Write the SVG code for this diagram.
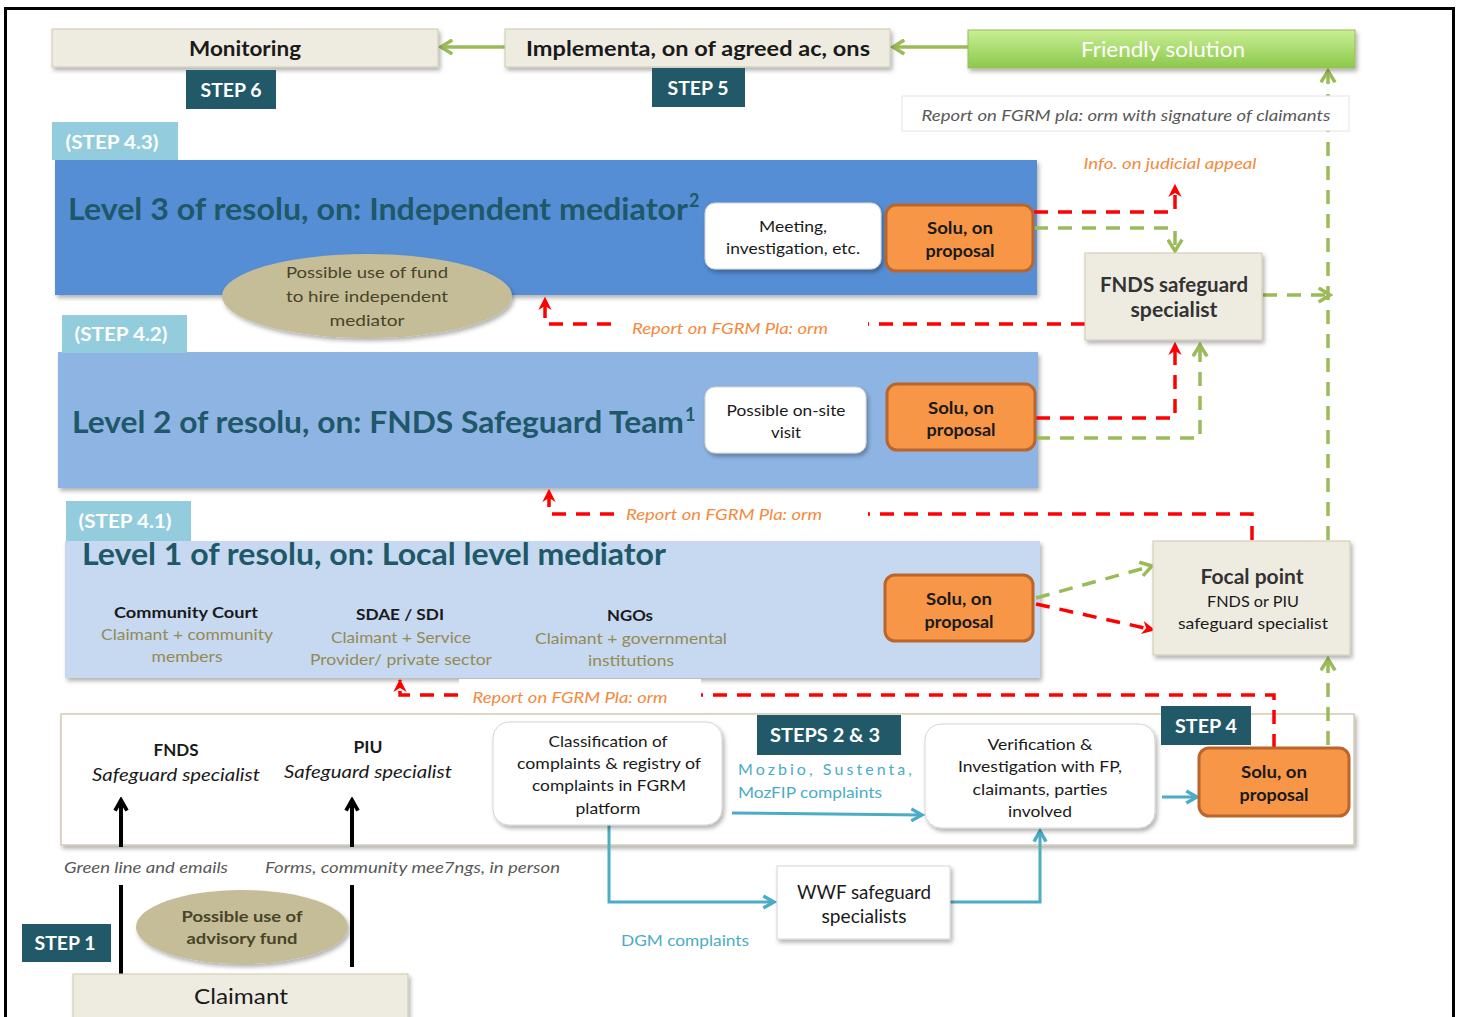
<svg xmlns="http://www.w3.org/2000/svg" width="1460" height="1017" viewBox="0 0 1460 1017">
<defs>
<style>
text{font-family:Lato,"Liberation Sans",sans-serif;}
.c{text-anchor:middle;}
.b{font-weight:bold;}
.i{font-style:italic;}
.step{fill:#215968;}
.stept{fill:#fff;font-weight:bold;font-size:19px;text-anchor:middle;}
.lstep{fill:#93cddd;}
.beige{fill:#eeece1;stroke:#cfc9ae;stroke-width:1;}
.orange{fill:#f79646;stroke:#b9652b;stroke-width:3;}
.white{fill:#fff;stroke:#d5d5d5;stroke-width:1;}
.lvl{fill:#1f5868;font-size:31px;font-weight:bold;}
.rep{fill:#f5893c;font-size:16px;font-style:italic;}
.gray{fill:#948a54;font-size:16px;}
.dk{fill:#1a1a1a;}
.red{fill:none;stroke:#ff0000;stroke-width:3.5;stroke-dasharray:14 10;}
.grn{fill:none;stroke:#9bbb59;stroke-width:3.5;stroke-dasharray:14 10;}
.grs{fill:none;stroke:#9bbb59;stroke-width:3.5;}
.blk{fill:none;stroke:#000;stroke-width:4;}
.blu{fill:none;stroke:#4bacc6;stroke-width:3;}
.blut{fill:#4bacc6;font-size:16px;}
</style>
<filter id="sh" x="-10%" y="-10%" width="130%" height="140%">
<feDropShadow dx="2" dy="3" stdDeviation="2" flood-color="#000" flood-opacity="0.3"/>
</filter>
<linearGradient id="gr" x1="0" y1="0" x2="0" y2="1">
<stop offset="0" stop-color="#c9ef95"/>
<stop offset="1" stop-color="#8cc84b"/>
</linearGradient>
<marker id="mG" viewBox="0 0 12 12" refX="10" refY="6" markerWidth="17" markerHeight="17" orient="auto" markerUnits="userSpaceOnUse">
<path d="M2,1 L10,6 L2,11" fill="none" stroke="#9bbb59" stroke-width="2.5"/>
</marker>
<marker id="mR" viewBox="0 0 12 12" refX="10" refY="6" markerWidth="16" markerHeight="16" orient="auto" markerUnits="userSpaceOnUse">
<path d="M1,1 L11,6 L1,11 L4,6 z" fill="#ff0000"/>
</marker>
<marker id="mK" viewBox="0 0 12 12" refX="10" refY="6" markerWidth="16" markerHeight="16" orient="auto" markerUnits="userSpaceOnUse">
<path d="M2,1.5 L10,6 L2,10.5" fill="none" stroke="#000" stroke-width="2.8"/>
</marker>
<marker id="mB" viewBox="0 0 12 12" refX="10" refY="6" markerWidth="16" markerHeight="16" orient="auto" markerUnits="userSpaceOnUse">
<path d="M2,1.5 L10,6 L2,10.5" fill="none" stroke="#4bacc6" stroke-width="2.5"/>
</marker>
</defs>
<rect x="0" y="0" width="1460" height="1017" fill="#fff"/>
<rect id="frame" x="5.5" y="8.5" width="1448" height="1030" fill="none" stroke="#000" stroke-width="3"/>

<g id="panels">
<g id="level3"><rect x="55" y="160" width="982" height="135" fill="#558ed5" filter="url(#sh)"/>
<text x="68" y="220" class="lvl" textLength="620" lengthAdjust="spacingAndGlyphs">Level 3 of resolu, on: Independent mediator</text><text x="689" y="207" class="lvl" style="font-size:18px">2</text></g>
<g id="level2"><rect x="58" y="352" width="980" height="136" fill="#8eb4e3" filter="url(#sh)"/>
<text x="72" y="433" class="lvl" textLength="612" lengthAdjust="spacingAndGlyphs">Level 2 of resolu, on: FNDS Safeguard Team</text><text x="685" y="421" class="lvl" style="font-size:18px">1</text></g>
<g id="level1"><rect x="65" y="541" width="975" height="137" fill="#c6d9f1" filter="url(#sh)"/>
<text x="82" y="565" class="lvl" textLength="584" lengthAdjust="spacingAndGlyphs">Level 1 of resolu, on: Local level mediator</text>
<text x="186" y="618" class="c b dk" font-size="16" textLength="144" lengthAdjust="spacingAndGlyphs">Community Court</text>
<text x="187" y="640" class="c gray" textLength="172" lengthAdjust="spacingAndGlyphs">Claimant + community</text>
<text x="187" y="662" class="c gray" textLength="71" lengthAdjust="spacingAndGlyphs">members</text>
<text x="400" y="620" class="c b dk" font-size="16" textLength="88" lengthAdjust="spacingAndGlyphs">SDAE / SDI</text>
<text x="401" y="643" class="c gray" textLength="140" lengthAdjust="spacingAndGlyphs">Claimant + Service</text>
<text x="401" y="665" class="c gray" textLength="182" lengthAdjust="spacingAndGlyphs">Provider/ private sector</text>
<text x="630" y="621" class="c b dk" font-size="16" textLength="46" lengthAdjust="spacingAndGlyphs">NGOs</text>
<text x="631" y="644" class="c gray" textLength="192" lengthAdjust="spacingAndGlyphs">Claimant + governmental</text>
<text x="631" y="666" class="c gray" textLength="86" lengthAdjust="spacingAndGlyphs">institutions</text></g>
<g id="steps-frame"><rect x="61" y="714" width="1293" height="131" fill="#fff" stroke="#d2ccb2" stroke-width="1.5" filter="url(#sh)"/>
<text x="176" y="756" class="c b dk" font-size="17" textLength="45" lengthAdjust="spacingAndGlyphs">FNDS</text>
<text x="176" y="781" class="c i dk" font-size="17" textLength="168" lengthAdjust="spacingAndGlyphs">Safeguard specialist</text>
<text x="368" y="753" class="c b dk" font-size="17" textLength="29" lengthAdjust="spacingAndGlyphs">PIU</text>
<text x="368" y="778" class="c i dk" font-size="17" textLength="168" lengthAdjust="spacingAndGlyphs">Safeguard specialist</text></g>
</g>

<g id="connectors">
<path class="grs" d="M505,47 L441,47" marker-end="url(#mG)"/>
<path class="grs" d="M968,47 L893,47" marker-end="url(#mG)"/>
<path class="grn" d="M1328,745 L1328,659" marker-end="url(#mG)"/>
<path class="grn" d="M1328,540 L1328,71" marker-end="url(#mG)"/>
<path class="grn" d="M1263,295 L1330,295" marker-end="url(#mG)"/>
<path class="red" d="M1034,212 L1175,212 L1175,185" marker-end="url(#mR)"/>
<path class="grn" d="M1034,228 L1175,228 L1175,251" marker-end="url(#mG)"/>
<path class="red" d="M1036,418 L1175,418 L1175,343" marker-end="url(#mR)"/>
<path class="grn" d="M1036,438 L1200,438 L1200,345" marker-end="url(#mG)"/>
<path class="red" d="M1085,324 L868,324"/>
<path class="red" d="M611,324 L545,324 L545,298" marker-end="url(#mR)"/>
<path class="red" d="M1252,540 L1252,514 L868,514"/>
<path class="red" d="M614,514 L549,514 L549,490" marker-end="url(#mR)"/>
<path class="grn" d="M1036,598 L1152,566" marker-end="url(#mG)"/>
<path class="red" d="M1036,604 L1154,630" marker-end="url(#mR)"/>
<path class="red" d="M1274,748 L1274,695 L700,695"/>
<path class="red" d="M458,695 L400,695 L400,680" marker-end="url(#mR)"/>
<path class="blk" d="M121,975 L121,885"/>
<path class="blk" d="M121,847 L121,800" marker-end="url(#mK)"/>
<path class="blk" d="M352,967 L352,885"/>
<path class="blk" d="M352,847 L352,800" marker-end="url(#mK)"/>
<path class="blu" d="M732,813 L922,815" marker-end="url(#mB)"/>
<path class="blu" d="M1162,797 L1197,797" marker-end="url(#mB)"/>
<path class="blu" d="M609,825 L609,902 L774,902" marker-end="url(#mB)"/>
<path class="blu" d="M950,902 L1040,902 L1040,831" marker-end="url(#mB)"/>
</g>

<g id="monitoring"><rect x="52" y="29" width="386" height="38" class="beige" filter="url(#sh)"/>
<text x="245" y="56" class="c b dk" font-size="21" textLength="112" lengthAdjust="spacingAndGlyphs">Monitoring</text></g>
<g id="step6"><rect x="186" y="70" width="90" height="39" class="step"/><text x="231" y="97" class="stept" textLength="61" lengthAdjust="spacingAndGlyphs">STEP 6</text></g>
<g id="implementation"><rect x="505" y="29" width="385" height="38" class="beige" filter="url(#sh)"/>
<text x="698" y="56" class="c b dk" font-size="21" textLength="344" lengthAdjust="spacingAndGlyphs">Implementa, on of agreed ac, ons</text></g>
<g id="step5"><rect x="652" y="68" width="93" height="39" class="step"/><text x="698" y="95" class="stept" textLength="61" lengthAdjust="spacingAndGlyphs">STEP 5</text></g>
<g id="friendly"><rect x="968" y="30" width="387" height="38" fill="url(#gr)" stroke="#9bbb59" stroke-width="1" filter="url(#sh)"/>
<text x="1163" y="57" class="c" fill="#fff" font-size="21" textLength="164" lengthAdjust="spacingAndGlyphs">Friendly solution</text></g>
<g id="report-signature"><rect x="902" y="96" width="447" height="35" fill="#fff" stroke="#e3e3e3" stroke-width="1"/>
<text x="1126" y="121" class="c i" fill="#595959" font-size="16" textLength="409" lengthAdjust="spacingAndGlyphs">Report on FGRM pla: orm with signature of claimants</text></g>

<g id="step43"><rect x="52" y="122" width="126" height="38" class="lstep"/><text x="112" y="149" class="stept" textLength="93" lengthAdjust="spacingAndGlyphs">(STEP 4.3)</text></g>
<g id="meeting"><rect x="705" y="203" width="176" height="66" rx="10" class="white" filter="url(#sh)"/>
<text x="793" y="232" class="c dk" font-size="16" textLength="68" lengthAdjust="spacingAndGlyphs">Meeting,</text>
<text x="793" y="254" class="c dk" font-size="16" textLength="134" lengthAdjust="spacingAndGlyphs">investigation, etc.</text></g>
<g id="solution3"><rect x="886" y="205" width="147" height="66" rx="10" class="orange"/>
<text x="960" y="234" class="c b dk" font-size="17" textLength="66" lengthAdjust="spacingAndGlyphs">Solu, on</text>
<text x="960" y="257" class="c b dk" font-size="17" textLength="69" lengthAdjust="spacingAndGlyphs">proposal</text></g>
<g id="fund-ellipse"><ellipse cx="367" cy="296" rx="145" ry="42" fill="#c4bd97" filter="url(#sh)"/>
<text x="367" y="278" class="c" fill="#494429" font-size="16" textLength="162" lengthAdjust="spacingAndGlyphs">Possible use of fund</text>
<text x="367" y="302" class="c" fill="#494429" font-size="16" textLength="162" lengthAdjust="spacingAndGlyphs">to hire independent</text>
<text x="367" y="326" class="c" fill="#494429" font-size="16" textLength="75" lengthAdjust="spacingAndGlyphs">mediator</text></g>
<g id="fnds-specialist"><rect x="1085" y="253" width="177" height="87" class="beige" filter="url(#sh)"/>
<text x="1174" y="292" class="c b" fill="#333" font-size="20" textLength="148" lengthAdjust="spacingAndGlyphs">FNDS safeguard</text>
<text x="1174" y="317" class="c b" fill="#333" font-size="20" textLength="87" lengthAdjust="spacingAndGlyphs">specialist</text></g>
<g id="label-judicial"><text x="1170" y="169" class="c rep" textLength="173" lengthAdjust="spacingAndGlyphs">Info. on judicial appeal</text></g>
<g id="label-report3"><text x="730" y="334" class="c rep" textLength="196" lengthAdjust="spacingAndGlyphs">Report on FGRM Pla: orm</text></g>

<g id="step42"><rect x="62" y="315" width="125" height="38" class="lstep"/><text x="121" y="341" class="stept" textLength="93" lengthAdjust="spacingAndGlyphs">(STEP 4.2)</text></g>
<g id="onsite"><rect x="705" y="387" width="161" height="66" rx="10" class="white" filter="url(#sh)"/>
<text x="786" y="416" class="c dk" font-size="16" textLength="119" lengthAdjust="spacingAndGlyphs">Possible on-site</text>
<text x="786" y="438" class="c dk" font-size="16" textLength="30" lengthAdjust="spacingAndGlyphs">visit</text></g>
<g id="solution2"><rect x="887" y="384" width="148" height="66" rx="10" class="orange"/>
<text x="961" y="414" class="c b dk" font-size="17" textLength="66" lengthAdjust="spacingAndGlyphs">Solu, on</text>
<text x="961" y="436" class="c b dk" font-size="17" textLength="69" lengthAdjust="spacingAndGlyphs">proposal</text></g>
<g id="label-report2"><text x="724" y="520" class="c rep" textLength="196" lengthAdjust="spacingAndGlyphs">Report on FGRM Pla: orm</text></g>

<g id="step41"><rect x="66" y="501" width="125" height="40" class="lstep"/><text x="125" y="528" class="stept" textLength="93" lengthAdjust="spacingAndGlyphs">(STEP 4.1)</text></g>
<g id="solution1"><rect x="885" y="575" width="148" height="66" rx="10" class="orange"/>
<text x="959" y="605" class="c b dk" font-size="17" textLength="66" lengthAdjust="spacingAndGlyphs">Solu, on</text>
<text x="959" y="628" class="c b dk" font-size="17" textLength="69" lengthAdjust="spacingAndGlyphs">proposal</text></g>
<g id="focal-point"><rect x="1153" y="541" width="197" height="114" class="beige" filter="url(#sh)"/>
<text x="1252" y="584" class="c b" fill="#333" font-size="20" textLength="103" lengthAdjust="spacingAndGlyphs">Focal point</text>
<text x="1253" y="607" class="c dk" font-size="16" textLength="92" lengthAdjust="spacingAndGlyphs">FNDS or PIU</text>
<text x="1253" y="629" class="c dk" font-size="16" textLength="150" lengthAdjust="spacingAndGlyphs">safeguard specialist</text></g>
<g id="label-report1"><rect x="459" y="679" width="242" height="34" fill="#fff"/>
<text x="570" y="703" class="c rep" textLength="195" lengthAdjust="spacingAndGlyphs">Report on FGRM Pla: orm</text></g>

<g id="classification"><rect x="493" y="722" width="229" height="103" rx="16" class="white" filter="url(#sh)"/>
<text x="608" y="747" class="c dk" font-size="16" textLength="119" lengthAdjust="spacingAndGlyphs">Classification of</text>
<text x="609" y="769" class="c dk" font-size="16" textLength="184" lengthAdjust="spacingAndGlyphs">complaints &amp; registry of</text>
<text x="609" y="791" class="c dk" font-size="16" textLength="154" lengthAdjust="spacingAndGlyphs">complaints in FGRM</text>
<text x="608" y="814" class="c dk" font-size="16" textLength="65" lengthAdjust="spacingAndGlyphs">platform</text></g>
<g id="steps23"><rect x="757" y="715" width="144" height="40" class="step"/><text x="825" y="742" class="stept" textLength="110" lengthAdjust="spacingAndGlyphs">STEPS 2 &amp; 3</text></g>
<g id="label-mozbio"><text x="738" y="775" class="blut" textLength="174" lengthAdjust="spacing">Mozbio,  Sustenta,</text>
<text x="738" y="798" class="blut" textLength="144" lengthAdjust="spacingAndGlyphs">MozFIP complaints</text></g>
<g id="verification"><rect x="925" y="724" width="230" height="104" rx="16" class="white" filter="url(#sh)"/>
<text x="1040" y="750" class="c dk" font-size="16" textLength="105" lengthAdjust="spacingAndGlyphs">Verification &amp;</text>
<text x="1040" y="772" class="c dk" font-size="16" textLength="164" lengthAdjust="spacingAndGlyphs">Investigation with FP,</text>
<text x="1040" y="795" class="c dk" font-size="16" textLength="135" lengthAdjust="spacingAndGlyphs">claimants, parties</text>
<text x="1040" y="817" class="c dk" font-size="16" textLength="64" lengthAdjust="spacingAndGlyphs">involved</text></g>
<g id="step4"><rect x="1161" y="706" width="90" height="39" class="step"/><text x="1206" y="733" class="stept" textLength="62" lengthAdjust="spacingAndGlyphs">STEP 4</text></g>
<g id="solution4"><rect x="1199" y="748" width="150" height="68" rx="10" class="orange"/>
<text x="1274" y="778" class="c b dk" font-size="17" textLength="66" lengthAdjust="spacingAndGlyphs">Solu, on</text>
<text x="1274" y="801" class="c b dk" font-size="17" textLength="69" lengthAdjust="spacingAndGlyphs">proposal</text></g>
<g id="wwf"><rect x="777" y="866" width="173" height="73" class="white" stroke="#c8c8c8" filter="url(#sh)"/>
<text x="864" y="899" class="c dk" font-size="19" textLength="134" lengthAdjust="spacingAndGlyphs">WWF safeguard</text>
<text x="864" y="923" class="c dk" font-size="19" textLength="85" lengthAdjust="spacingAndGlyphs">specialists</text></g>
<g id="label-dgm"><text x="685" y="946" class="c blut" textLength="128" lengthAdjust="spacingAndGlyphs">DGM complaints</text></g>

<g id="label-channels"><text x="64" y="873" class="i" fill="#595959" font-size="16" textLength="164" lengthAdjust="spacingAndGlyphs">Green line and emails</text>
<text x="265" y="873" class="i" fill="#595959" font-size="16" textLength="295" lengthAdjust="spacingAndGlyphs">Forms, community mee7ngs, in person</text></g>
<g id="advisory-ellipse"><ellipse cx="242" cy="927" rx="106" ry="37" fill="#c4bd97" filter="url(#sh)"/>
<text x="242" y="922" class="c b" fill="#494429" font-size="16" textLength="121" lengthAdjust="spacingAndGlyphs">Possible use of</text>
<text x="242" y="944" class="c b" fill="#494429" font-size="16" textLength="111" lengthAdjust="spacingAndGlyphs">advisory fund</text></g>
<g id="step1"><rect x="22" y="924" width="89" height="38" class="step"/><text x="65" y="950" class="stept" textLength="61" lengthAdjust="spacingAndGlyphs">STEP 1</text></g>
<g id="claimant"><rect x="73" y="974" width="335" height="50" class="beige" filter="url(#sh)"/>
<text x="241" y="1004" class="c dk" font-size="21" textLength="94" lengthAdjust="spacingAndGlyphs">Claimant</text></g>
</svg>
